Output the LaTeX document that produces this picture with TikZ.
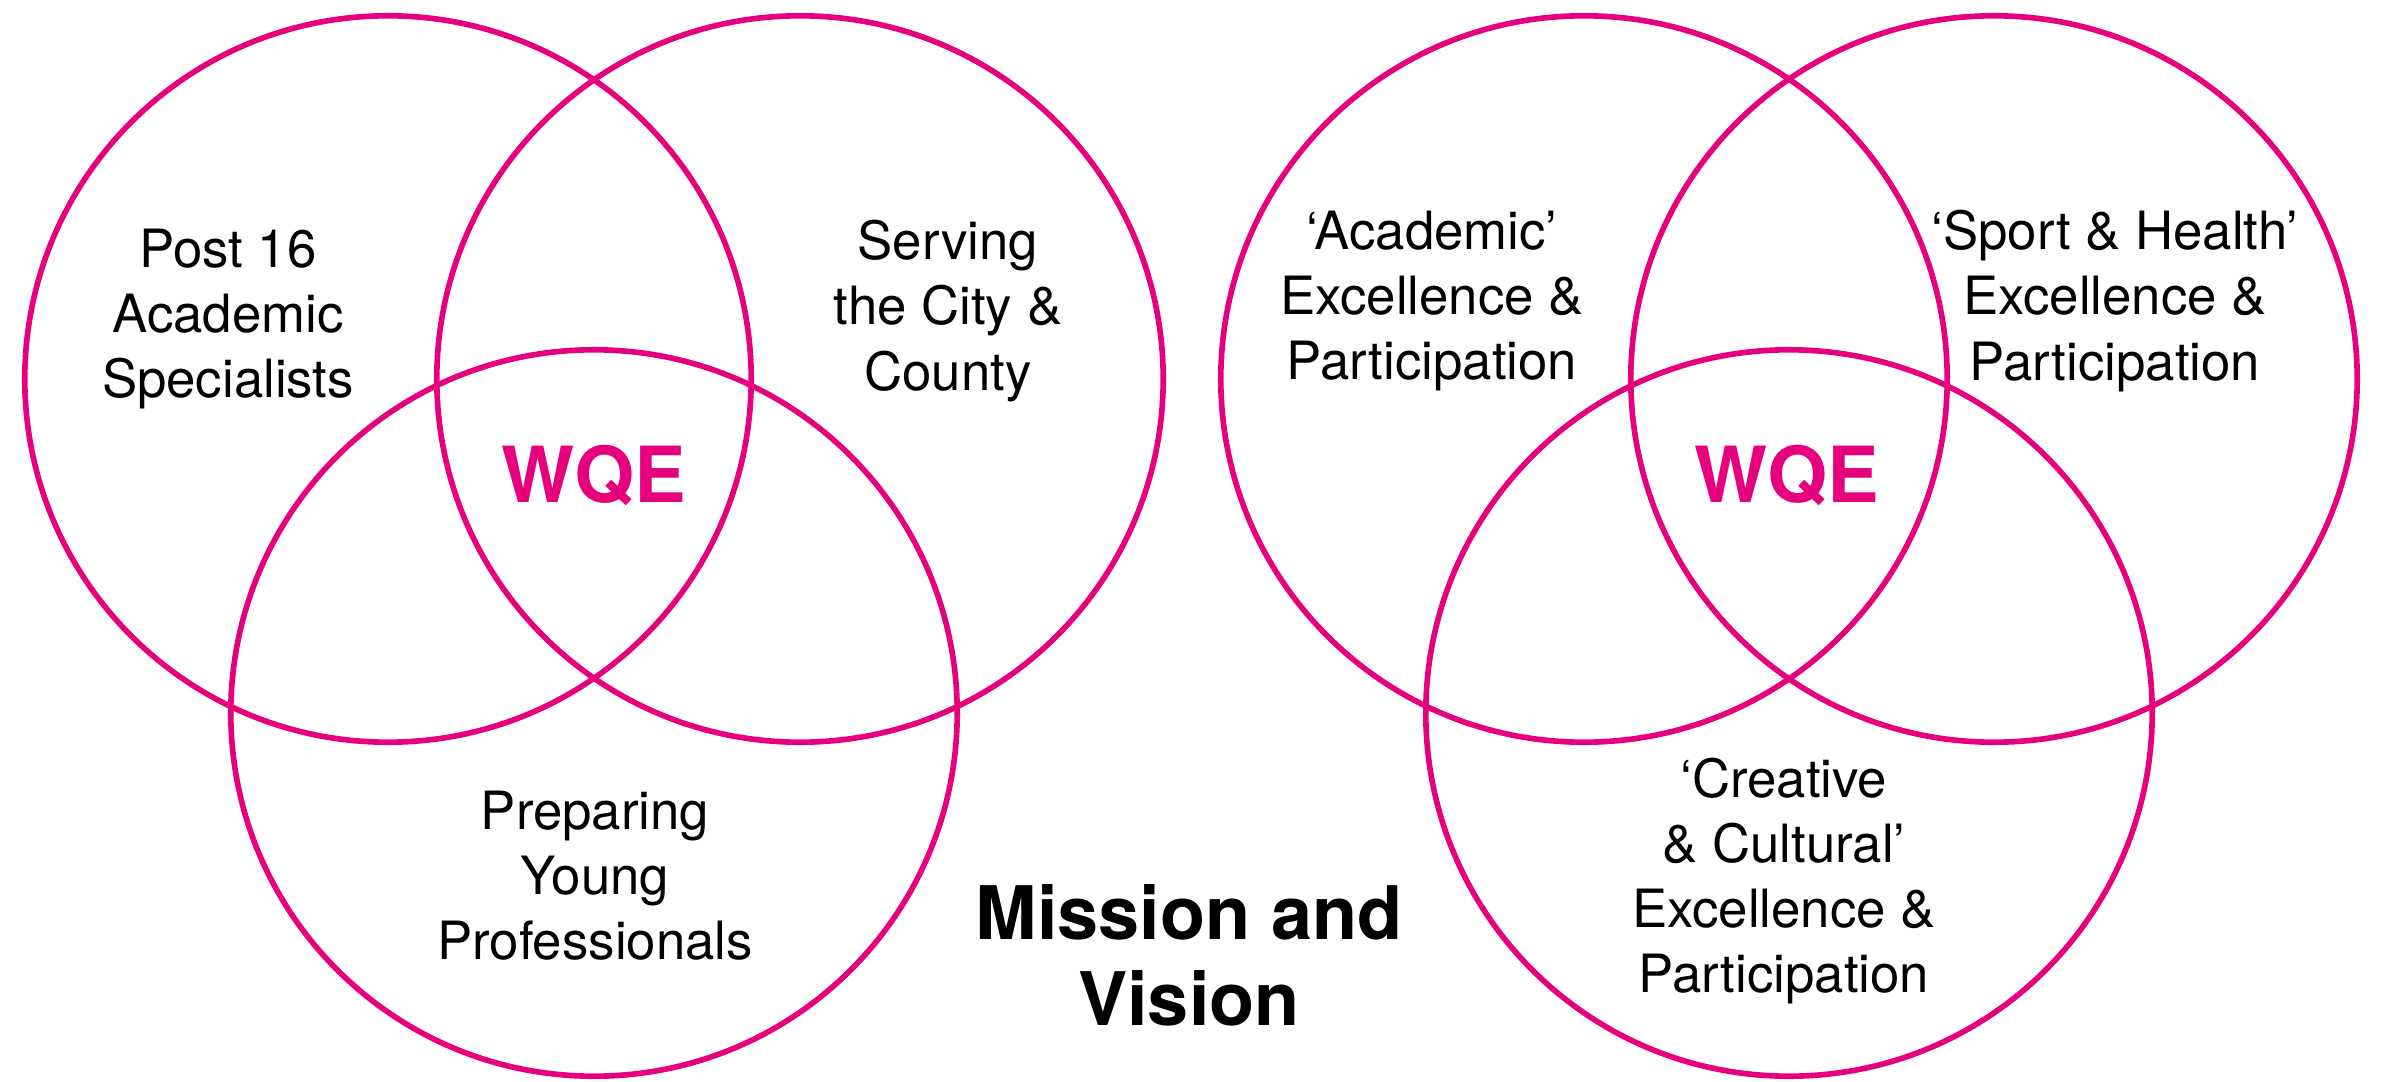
\documentclass[tikz,border=0pt]{standalone}
\usepackage{fontspec}
\setmainfont{TeX Gyre Heros}
\definecolor{wqepink}{HTML}{E6007E}
\begin{document}
\begin{tikzpicture}[x=0.01cm, y=-0.01cm,
    venn/.style={circle, draw=wqepink, line width=1.6pt, minimum size=7.26cm, inner sep=0pt},
    lbl/.style={align=center, font=\fontsize{15}{18.5}\selectfont},
    core/.style={text=wqepink, font=\fontsize{22}{24}\selectfont\bfseries},
    headline/.style={align=center, font=\fontsize{21}{24.5}\selectfont\bfseries}]
    \useasboundingbox (0,0) rectangle (2381,1082);
    % left venn
    \node[venn] (post) at (388,379) {};
    \node[venn] (city) at (800,379) {};
    \node[venn] (prep) at (594,713) {};
    \node[lbl] (postL) at (228,319) {Post 16\\Academic\\Specialists};
    \node[lbl] (cityL) at (948,311) {Serving\\the City \&\\County};
    \node[lbl] (prepL) at (595,876) {Preparing\\Young\\Professionals};
    \node[core] (wqeA) at (594,475) {WQE};
    % right venn
    \node[venn] (acad) at (1584,379) {};
    \node[venn] (sport) at (1994,379) {};
    \node[venn] (creat) at (1789,713) {};
    \node[lbl] (acadL) at (1432,301) {‘Academic’\\Excellence \&\\Participation};
    \node[lbl] (sportL) at (2115,301) {‘Sport \& Health’\\Excellence \&\\Participation};
    \node[lbl] (creatL) at (1784,881) {‘Creative\\\& Cultural’\\Excellence \&\\Participation};
    \node[core] (wqeB) at (1787,475) {WQE};
    \node[headline] (mission) at (1189,955) {Mission and\\Vision};
\end{tikzpicture}
\end{document}
